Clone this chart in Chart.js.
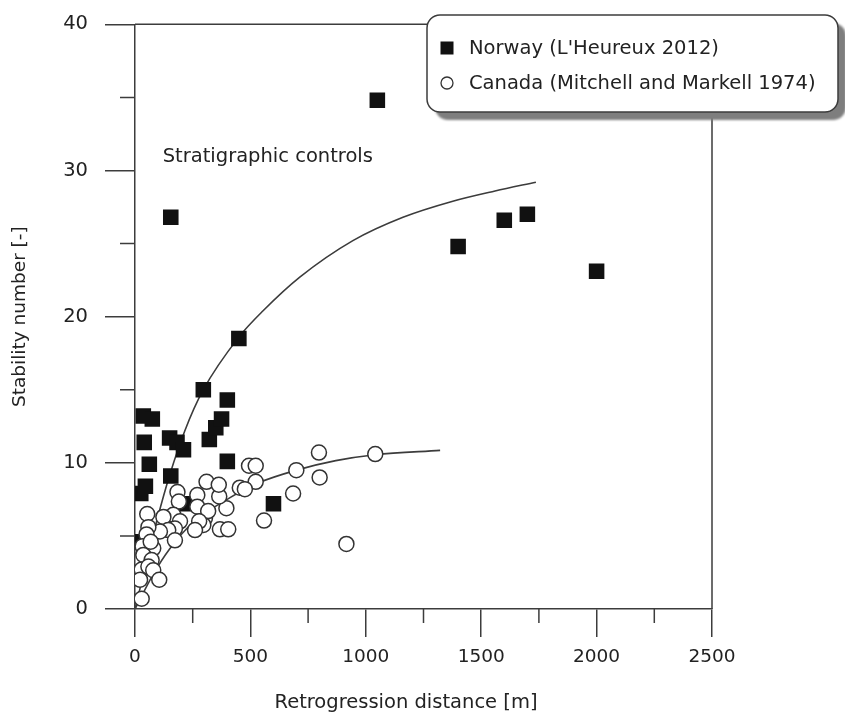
<!DOCTYPE html>
<html>
<head>
<meta charset="utf-8">
<script src="https://cdn.jsdelivr.net/npm/chart.js@4/dist/chart.umd.min.js"></script>
<style>
  html, body { margin: 0; padding: 0; background: #fff; }
  canvas { display: block; }
</style>
</head>
<body>
<canvas id="chart" width="845" height="713"></canvas>
<script>
// Retrogression distance [m] vs stability number [-]
const norwayX = [5, 25, 45, 62, 40, 36, 75, 150, 182, 210, 155, 222, 296, 322, 350, 375, 400, 400, 450, 600, 155, 1050, 1400, 1600, 1700, 2000];
const norwayY = [4.6, 7.9, 8.4, 9.9, 11.4, 13.2, 13.0, 11.7, 11.4, 10.9, 9.1, 7.2, 15.0, 11.6, 12.4, 13.0, 14.3, 10.1, 18.5, 7.2, 26.8, 34.8, 24.8, 26.6, 27.0, 23.1];

const canadaX = [797, 1041, 699, 800, 685, 559, 916, 494, 523, 523, 454, 476, 396, 365, 310, 363, 368, 404, 303, 296,
                 270, 184, 190, 270, 317, 278, 260, 166, 123, 195, 173, 144, 173, 108, 53, 58, 50, 33, 79, 36,
                 72, 29, 58, 79, 22, 105, 29, 68];
const canadaY = [10.7, 10.6, 9.5, 9.0, 7.9, 6.05, 4.45, 9.8, 9.8, 8.7, 8.3, 8.2, 6.9, 7.7, 8.7, 8.5, 5.45, 5.45, 6.2, 5.75,
                 7.8, 8.0, 7.35, 7.0, 6.7, 6.0, 5.4, 6.45, 6.3, 6.0, 5.5, 5.4, 4.7, 5.3, 6.5, 5.6, 5.1, 4.3, 4.15, 3.7,
                 3.35, 2.7, 2.9, 2.65, 2.0, 2.0, 0.7, 4.6];

// trend curves through each data set
const norwayFitX = [0, 94, 151, 216, 296, 450, 555, 714, 944, 1161, 1377, 1560, 1737];
const norwayFitY = [0, 6.0, 9.2, 12.2, 15.0, 18.6, 20.4, 22.7, 25.2, 26.8, 27.9, 28.6, 29.2];
const canadaFitX = [0, 80, 150, 250, 410, 530, 700, 870, 1041, 1322];
const canadaFitY = [0, 2.4, 4.1, 5.9, 7.6, 8.6, 9.5, 10.15, 10.55, 10.85];

const xTicks = [0, 500, 1000, 1500, 2000, 2500];
const yTicks = [0, 10, 20, 30, 40];
const seriesLabels = ["Norway (L'Heureux 2012)", "Canada (Mitchell and Markell 1974)"];
const xTitle = 'Retrogression distance [m]';
const yTitle = 'Stability number [-]';
const noteText = 'Stratigraphic controls';

const INK = '#3c3c3c';
const TEXT = '#222';
const FONT = "'DejaVu Sans', Verdana, sans-serif";

const zip = (xs, ys) => xs.map((x, i) => ({ x, y: ys[i] }));

// short minor ticks, top/right frame, x title and the text note
const frameAndMinor = {
  id: 'frameAndMinor',
  beforeDatasetsDraw(chart) {
    const { ctx, chartArea: a, scales: { x, y } } = chart;
    ctx.save();
    ctx.strokeStyle = INK;
    ctx.lineWidth = 1.5;
    ctx.beginPath();
    ctx.moveTo(a.left, a.top); ctx.lineTo(a.right, a.top);
    ctx.moveTo(a.right, a.top); ctx.lineTo(a.right, a.bottom);
    x.ticks.forEach(t => {
      if (xTicks.includes(t.value)) return;
      const px = x.getPixelForValue(t.value);
      ctx.moveTo(px, a.bottom); ctx.lineTo(px, a.bottom + 14);
    });
    y.ticks.forEach(t => {
      if (yTicks.includes(t.value)) return;
      const py = y.getPixelForValue(t.value);
      ctx.moveTo(a.left - 15, py); ctx.lineTo(a.left, py);
    });
    ctx.stroke();

    ctx.font = '19.5px ' + FONT;
    ctx.fillStyle = TEXT;
    ctx.textAlign = 'center';
    ctx.textBaseline = 'middle';
    ctx.fillText(xTitle, a.left + 271, chart.height - 10);
    ctx.restore();
  },
  afterDatasetsDraw(chart) {
    const { ctx, scales: { x, y } } = chart;
    ctx.save();
    ctx.font = '19.5px ' + FONT;
    ctx.fillStyle = TEXT;
    ctx.textBaseline = 'middle';
    ctx.fillText(noteText, x.getPixelForValue(120), y.getPixelForValue(30.9));
    ctx.restore();
  }
};

function roundedPath(ctx, x, y, w, h, r) {
  ctx.beginPath();
  ctx.moveTo(x + r, y);
  ctx.lineTo(x + w - r, y);
  ctx.arcTo(x + w, y, x + w, y + r, r);
  ctx.lineTo(x + w, y + h - r);
  ctx.arcTo(x + w, y + h, x + w - r, y + h, r);
  ctx.lineTo(x + r, y + h);
  ctx.arcTo(x, y + h, x, y + h - r, r);
  ctx.lineTo(x, y + r);
  ctx.arcTo(x, y, x + r, y, r);
  ctx.closePath();
}

// framed legend with drop shadow in the upper right corner
const boxLegend = {
  id: 'boxLegend',
  afterDraw(chart) {
    const ctx = chart.ctx;
    const bx = 427, by = 15, bw = 411, bh = 97, r = 13;
    ctx.save();
    ctx.fillStyle = '#7e7e7e';
    ctx.filter = 'blur(1px)';
    roundedPath(ctx, bx + 8, by + 8, bw, bh, r);
    ctx.fill();
    ctx.filter = 'none';
    ctx.fillStyle = '#fff';
    roundedPath(ctx, bx, by, bw, bh, r);
    ctx.fill();
    ctx.lineWidth = 1.5;
    ctx.strokeStyle = INK;
    ctx.stroke();

    const entries = chart.data.datasets.filter(d => d.label);
    ctx.font = '19.5px ' + FONT;
    ctx.textBaseline = 'middle';
    entries.forEach((ds, i) => {
      const cy = by + 33 + i * 35;
      const mx = bx + 20;
      if (ds.pointStyle === 'rect') {
        ctx.fillStyle = ds.backgroundColor;
        ctx.fillRect(mx - 6.5, cy - 6.5, 13, 13);
      } else {
        ctx.beginPath();
        ctx.arc(mx, cy, 6, 0, Math.PI * 2);
        ctx.fillStyle = ds.backgroundColor;
        ctx.fill();
        ctx.lineWidth = 1.3;
        ctx.strokeStyle = ds.borderColor;
        ctx.stroke();
      }
      ctx.fillStyle = TEXT;
      ctx.fillText(ds.label, bx + 42, cy + 1);
    });
    ctx.restore();
  }
};

new Chart(document.getElementById('chart'), {
  type: 'scatter',
  data: {
    datasets: [
      {
        type: 'line', data: zip(norwayFitX, norwayFitY),
        borderColor: INK, borderWidth: 1.6, pointRadius: 0,
        cubicInterpolationMode: 'monotone', fill: false, order: 4
      },
      {
        type: 'line', data: zip(canadaFitX, canadaFitY),
        borderColor: INK, borderWidth: 1.6, pointRadius: 0,
        cubicInterpolationMode: 'monotone', fill: false, order: 3
      },
      {
        label: seriesLabels[0], data: zip(norwayX, norwayY),
        pointStyle: 'rect', pointRadius: 11,
        backgroundColor: '#111', borderColor: '#111', borderWidth: 0, order: 2
      },
      {
        label: seriesLabels[1], data: zip(canadaX, canadaY),
        pointStyle: 'circle', pointRadius: 7.5,
        backgroundColor: '#fff', borderColor: '#333', borderWidth: 1.5, order: 1
      }
    ]
  },
  options: {
    responsive: false,
    animation: false,
    devicePixelRatio: 1,
    layout: { padding: { left: 0, top: 24, right: 133, bottom: 0 } },
    plugins: { legend: { display: false }, tooltip: { enabled: false } },
    scales: {
      x: {
        type: 'linear', min: 0, max: 2500,
        afterFit: s => { s.height = 104; },
        ticks: {
          stepSize: 250, padding: 9, color: TEXT,
          font: { family: FONT, size: 18.5 },
          maxRotation: 0, autoSkip: false,
          callback: v => xTicks.includes(v) ? String(v) : ''
        },
        grid: {
          drawOnChartArea: false, drawTicks: true, tickLength: 28,
          lineWidth: 1.5, tickWidth: 1.5,
          tickColor: c => (c.tick && xTicks.includes(c.tick.value)) ? INK : 'rgba(0,0,0,0)'
        },
        border: { color: INK, width: 1.5 }
      },
      y: {
        min: 0, max: 40,
        afterFit: s => { s.width = 135; },
        ticks: {
          stepSize: 5, padding: 17, color: TEXT,
          font: { family: FONT, size: 19.5, lineHeight: 0.75 },
          autoSkip: false,
          callback: v => yTicks.includes(v) ? String(v) : ''
        },
        grid: {
          drawOnChartArea: false, drawTicks: true, tickLength: 30,
          lineWidth: 1.5, tickWidth: 1.5,
          tickColor: c => (c.tick && yTicks.includes(c.tick.value)) ? INK : 'rgba(0,0,0,0)'
        },
        border: { color: INK, width: 1.5 },
        title: {
          display: true, text: yTitle, color: TEXT,
          font: { family: FONT, size: 18.5 }, padding: { top: 9, bottom: 0 }
        }
      }
    }
  },
  plugins: [frameAndMinor, boxLegend]
});
</script>
</body>
</html>
